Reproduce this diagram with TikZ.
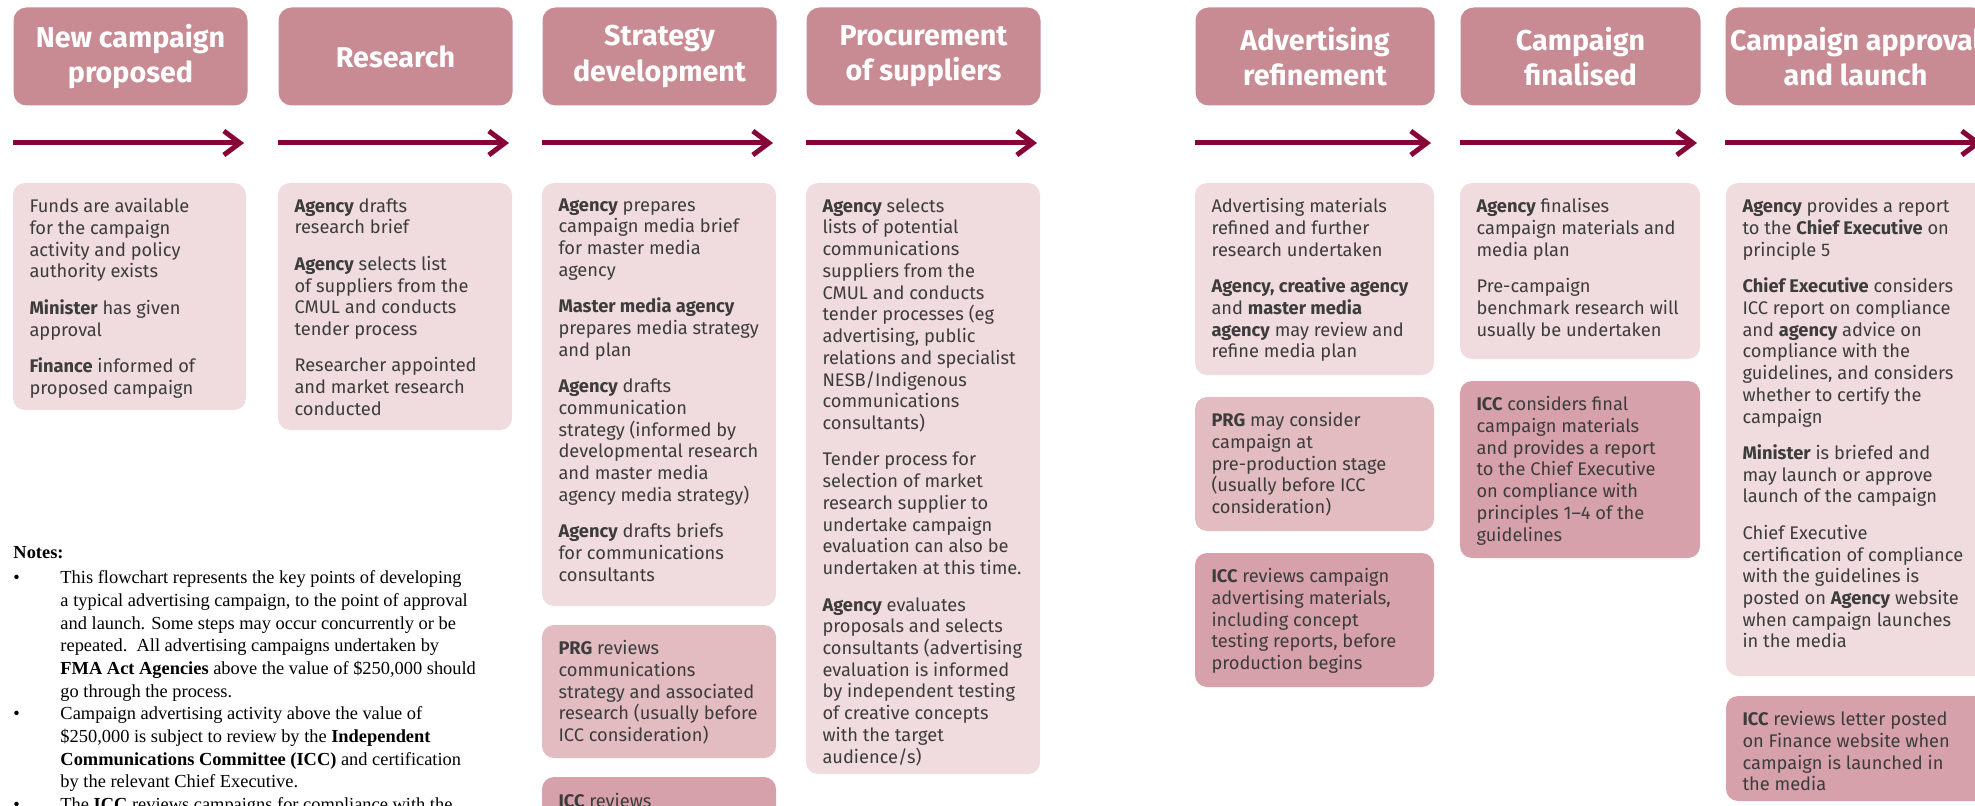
\documentclass[tikz,border=0pt]{standalone}
\usepackage{fontspec}
\setmainfont{Liberation Serif}
\newfontfamily\dinfont{Fira Sans}
\usetikzlibrary{arrows.meta}

\newcommand{\notebullet}{\makebox[35.25pt][l]{\textbullet}}
\newcommand{\noteindent}{\hspace*{35.25pt}}
\newcommand{\pgap}{\\[11pt]}

\tikzset{every picture/.style={line width=0.75pt}}
\tikzset{
  head/.style={anchor=north west, inner sep=0pt, rounded corners=9.75pt,
    fill={rgb, 255:red, 201; green, 139; blue, 147}, text=white, align=center,
    minimum width=175.5pt, minimum height=73.5pt,
    font=\dinfont\bfseries\fontsize{21.5}{26.5}\selectfont},
  flow/.style={line width=3.75pt, color={rgb, 255:red, 135; green, 4; blue, 56},
    -{Straight Barb[length=12pt,width=18pt,sharp]}},
  cardlight/.style={fill={rgb, 255:red, 240; green, 219; blue, 222}, rounded corners=9pt},
  cardmid/.style={fill={rgb, 255:red, 226; green, 188; blue, 193}, rounded corners=9pt},
  carddark/.style={fill={rgb, 255:red, 214; green, 161; blue, 170}, rounded corners=9pt},
  cardtext/.style={anchor=north west, inner sep=0pt, align=left,
    text={rgb, 255:red, 60; green, 60; blue, 60},
    font=\dinfont\fontsize{13.7}{16.3}\selectfont, execute at begin node=\strut},
  notetext/.style={anchor=north west, inner sep=0pt, align=left, text=black,
    font=\fontsize{13.8}{17}\selectfont, execute at begin node=\strut}
}

\begin{document}
\begin{tikzpicture}[x=0.75pt,y=0.75pt,yscale=-1,xscale=1]
\useasboundingbox (0,0) rectangle (1975,806);

% Stage headers
\draw (13,7) node (h1) [head] {New campaign\\proposed};
\draw (278,7) node (h2) [head] {Research};
\draw (542,7) node (h3) [head] {Strategy\\development};
\draw (806,7) node (h4) [head] {Procurement\\of suppliers};
\draw (1195,7) node (h5) [head, minimum width=179.25pt] {Advertising\\refinement};
\draw (1460,7) node (h6) [head, minimum width=180pt] {Campaign\\finalised};
\draw (1725,7) node (h7) [head, minimum width=195pt] {Campaign approval\\and launch};

%Straight Lines
\foreach \h in {h1,h2,h3,h4,h5,h6,h7}
  \draw [flow] ([yshift=27.75pt]\h.south west) -- ([xshift=-3pt,yshift=27.75pt]\h.south east);

%Shape: Rectangle
\fill [cardlight] (13,183) rectangle (246,410);
\fill [cardlight] (278,183) rectangle (512,430);
\fill [cardlight] (542,183) rectangle (776,606);
\fill [cardmid] (542,625) rectangle (776,758);
\fill [carddark] (542,777) rectangle (776,840);
\fill [cardlight] (806,183) rectangle (1040,774);
\fill [cardlight] (1195,183) rectangle (1434,375);
\fill [cardmid] (1195,397) rectangle (1434,531);
\fill [carddark] (1195,553) rectangle (1434,687);
\fill [cardlight] (1460,183) rectangle (1700,359);
\fill [carddark] (1460,381) rectangle (1700,558);
\fill [cardlight] (1726,183) rectangle (1995,676);
\fill [carddark] (1726,696) rectangle (1995,801);

% Text Node
\draw (29,198) node (t1) [cardtext] {Funds are available\\for the campaign\\activity and policy\\authority exists\pgap
\textbf{Minister} has given\\approval\pgap
\textbf{Finance} informed of\\proposed campaign};
% Text Node
\draw (294,198) node (t2) [cardtext] {\textbf{Agency} drafts\\research brief\pgap
\textbf{Agency} selects list\\of suppliers from the\\CMUL and conducts\\tender process\pgap
Researcher appointed\\and market research\\conducted};
% Text Node
\draw (558,198) node (t3a) [cardtext] {\textbf{Agency} prepares\\campaign media brief\\for master media\\agency\pgap
\textbf{Master media agency}\\prepares media strategy\\and plan\pgap
\textbf{Agency} drafts\\communication\\strategy (informed by\\developmental research\\and master media\\agency media strategy)\pgap
\textbf{Agency} drafts briefs\\for communications\\consultants};
% Text Node
\draw (558,640) node (t3b) [cardtext] {\textbf{PRG} reviews\\communications\\strategy and associated\\research (usually before\\ICC consideration)};
% Text Node
\draw (558,792) node (t3c) [cardtext] {\textbf{ICC} reviews};
% Text Node
\draw (822,198) node (t4) [cardtext] {\textbf{Agency} selects\\lists of potential\\communications\\suppliers from the\\CMUL and conducts\\tender processes (eg\\advertising, public\\relations and specialist\\NESB/Indigenous\\communications\\consultants)\pgap
Tender process for\\selection of market\\research supplier to\\undertake campaign\\evaluation can also be\\undertaken at this time.\pgap
\textbf{Agency} evaluates\\proposals and selects\\consultants (advertising\\evaluation is informed\\by independent testing\\of creative concepts\\with the target\\audience/s)};
% Text Node
\draw (1211,198) node (t5a) [cardtext] {Advertising materials\\refined and further\\research undertaken\pgap
\textbf{Agency, creative agency}\\and \textbf{master media}\\\textbf{agency} may review and\\refine media plan};
% Text Node
\draw (1211,412) node (t5b) [cardtext] {\textbf{PRG} may consider\\campaign at\\pre-production stage\\(usually before ICC\\consideration)};
% Text Node
\draw (1211,568) node (t5c) [cardtext] {\textbf{ICC} reviews campaign\\advertising materials,\\including concept\\testing reports, before\\production begins};
% Text Node
\draw (1476,198) node (t6a) [cardtext] {\textbf{Agency} finalises\\campaign materials and\\media plan\pgap
Pre-campaign\\benchmark research will\\usually be undertaken};
% Text Node
\draw (1476,396) node (t6b) [cardtext] {\textbf{ICC} considers final\\campaign materials\\and provides a report\\to the Chief Executive\\on compliance with\\principles 1–4 of the\\guidelines};
% Text Node
\draw (1742,198) node (t7a) [cardtext] {\textbf{Agency} provides a report\\to the \textbf{Chief Executive} on\\principle 5\pgap
\textbf{Chief Executive} considers\\ICC report on compliance\\and \textbf{agency} advice on\\compliance with the\\guidelines, and considers\\whether to certify the\\campaign\pgap
\textbf{Minister} is briefed and\\may launch or approve\\launch of the campaign\pgap
Chief Executive\\certification of compliance\\with the guidelines is\\posted on \textbf{Agency} website\\when campaign launches\\in the media};
% Text Node
\draw (1742,711) node (t7b) [cardtext] {\textbf{ICC} reviews letter posted\\on Finance website when\\campaign is launched in\\the media};

% Text Node
\draw (13,546) node (notes) [notetext] {\textbf{Notes:}\\[2pt]
\notebullet This flowchart represents the key points of developing\\
\noteindent a typical advertising campaign, to the point of approval\\
\noteindent and launch. Some steps may occur concurrently or be\\
\noteindent repeated.\ \ All advertising campaigns undertaken by\\
\noteindent \textbf{FMA Act Agencies} above the value of \$250,000 should\\
\noteindent go through the process.\\
\notebullet Campaign advertising activity above the value of\\
\noteindent \$250,000 is subject to review by the \textbf{Independent}\\
\noteindent \textbf{Communications Committee (ICC)} and certification\\
\noteindent by the relevant Chief Executive.\\
\notebullet The \textbf{ICC} reviews campaigns for compliance with the};

\end{tikzpicture}
\end{document}
